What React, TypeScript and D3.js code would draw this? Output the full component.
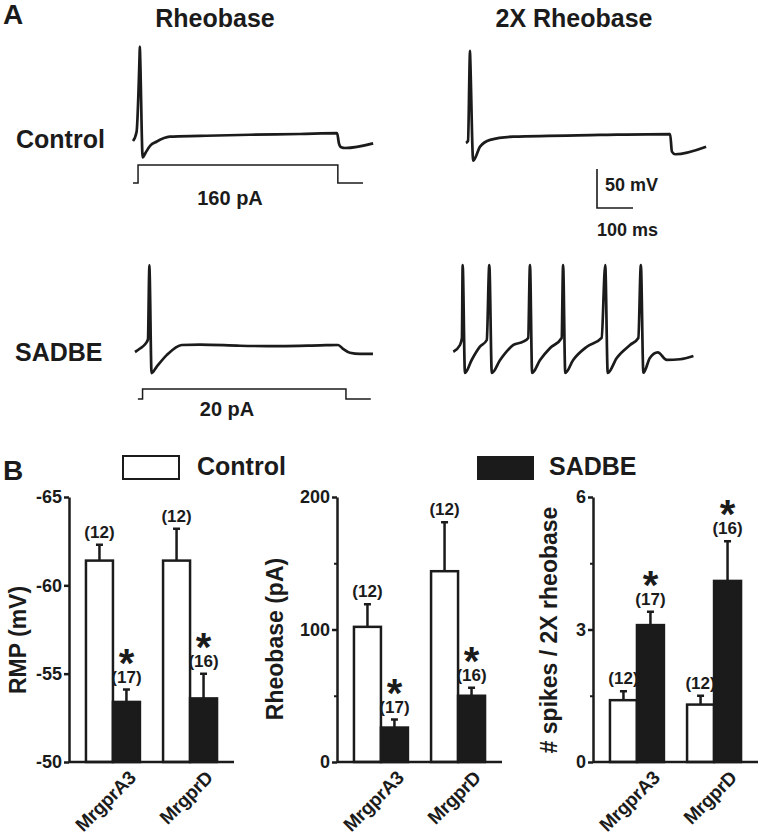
import React, { useEffect, useRef } from "react";
import * as d3 from "d3";

const FONT = "'Liberation Sans', Arial, Helvetica, sans-serif";
const INK = "#1b1b1b";

// ---- panel A: membrane potential traces, [time (ms), Vm (mV)] ----
const controlRheoTrace: [number, number][] = [
  [0, -60], [10, -48], [18.3, 50], [19, 61], [19.8, 50], [27, -81], [35, -75], [48, -66],
  [65, -61], [102, -54.5], [186, -53.5], [325, -52], [464, -51], [567, -50], [572, -63],
  [578, -68], [590, -69], [667, -63],
];
const control2xTrace: [number, number][] = [
  [0, -60], [5.6, -57.4], [10.3, 48], [11, 58], [11.8, 48], [20, -82.7], [39, -64.7], [67, -56],
  [131, -51.9], [372, -49.7], [567, -48.5], [572, -71], [581, -74.4], [667, -64.7],
];
const sadbeRheoTrace: [number, number][] = [
  [0, -60], [14, -55.5], [28, -50], [36, -44], [39.3, 42], [40, 51], [40.7, 42], [46, -87],
  [60, -79], [88, -64], [130, -51], [181, -50.5], [292, -52], [403, -52.5], [514, -51.5],
  [564, -51], [578, -56], [597, -61], [625, -62.5], [661, -62.5],
];
const sadbe2xTrace: [number, number][] = [
  [0, -60], [18.6, -51.4], [24, -42.4], [26, 51], [32.4, -87.3], [51, -70.6], [74, -53.6],
  [93, -45], [100, 51], [107, -87.3], [130, -70.6], [167, -51.4], [194, -47.2], [208, -42.4],
  [213, 51], [219, -87.3], [241, -70.6], [269, -55.3], [301, -42.4], [305, 51], [311, -87.3],
  [333, -70.6], [371, -53.6], [412, -42.4], [422, 51], [429, -87.3], [454, -68], [491, -51.4],
  [514, -42.4], [521, 51], [528, -87], [546, -68], [568, -60.8], [593, -70.6], [630, -69.7],
  [667, -65.5],
];

// current steps, [time (ms), pA]
const controlStep: [number, number][] = [[0, 0], [14, 0], [14, 160], [569, 160], [569, 0], [639, 0]];
const sadbeStep: [number, number][] = [[8, 0], [21, 0], [21, 20], [586, 20], [586, 0], [655, 0]];
const stepLabels = ["160 pA", "20 pA"];

const scaleBarMv = 50;
const scaleBarMs = 100;

// ---- panel B ----
const genes = ["MrgprA3", "MrgprD"];
const groups = ["Control", "SADBE"];

const rmpControl = [-61.4, -61.4];
const rmpControlSem = [0.9, 1.8];
const rmpSadbe = [-53.4, -53.6];
const rmpSadbeSem = [0.7, 1.4];

const rheoControl = [102, 144];
const rheoControlSem = [17, 37];
const rheoSadbe = [26, 50];
const rheoSadbeSem = [6, 6];

const spikesControl = [1.4, 1.3];
const spikesControlSem = [0.2, 0.2];
const spikesSadbe = [3.1, 4.1];
const spikesSadbeSem = [0.3, 0.9];

const nControl = [12, 12];
const nSadbe = [17, 16];

const PX_PER_MS = 0.36;
const PX_PER_MV = 0.78;

export default function App() {
  const ref = useRef<SVGSVGElement>(null);

  useEffect(() => {
    const svg = d3.select(ref.current);
    svg.selectAll("*").remove();

    const text = (x: number, y: number, s: string, size: number, anchor = "start") =>
      svg.append("text")
        .attr("x", x).attr("y", y)
        .attr("font-family", FONT).attr("font-weight", "bold")
        .attr("font-size", size).attr("fill", INK)
        .attr("text-anchor", anchor)
        .text(s);

    // ---------- A ----------
    text(3, 24, "A", 28);
    text(215, 27, "Rheobase", 25, "middle");
    text(574, 27, "2X Rheobase", 25, "middle");
    text(16, 148, "Control", 25);
    text(15, 361, "SADBE", 25);

    const traces = [
      { data: controlRheoTrace, x0: 133, y0: 141 },
      { data: control2xTrace, x0: 466, y0: 143 },
      { data: sadbeRheoTrace, x0: 135, y0: 352 },
      { data: sadbe2xTrace, x0: 453.3, y0: 351.7 },
    ];
    const scalesFor = (x0: number, y0: number) => ({
      x: d3.scaleLinear().domain([0, 700]).range([x0, x0 + 700 * PX_PER_MS]),
      y: d3.scaleLinear().domain([-60, 40]).range([y0, y0 - 100 * PX_PER_MV]),
    });

    traces.forEach((t) => {
      const s = scalesFor(t.x0, t.y0);
      const line = d3.line<[number, number]>()
        .x((d) => s.x(d[0])).y((d) => s.y(d[1]))
        .curve(d3.curveMonotoneX);
      svg.append("path")
        .attr("d", line(t.data))
        .attr("fill", "none").attr("stroke", INK)
        .attr("stroke-width", 2.7).attr("stroke-linejoin", "round");
    });

    // current steps
    const steps = [
      { data: controlStep, x0: 133, base: 183, top: 165, label: stepLabels[0], lx: 230, ly: 205 },
      { data: sadbeStep, x0: 135, base: 399, top: 389, label: stepLabels[1], lx: 227, ly: 416 },
    ];
    steps.forEach((st) => {
      const amp = d3.max(st.data, (d) => d[1]) as number;
      const x = d3.scaleLinear().domain([0, 700]).range([st.x0, st.x0 + 700 * PX_PER_MS]);
      const y = d3.scaleLinear().domain([0, amp]).range([st.base, st.top]);
      const line = d3.line<[number, number]>().x((d) => x(d[0])).y((d) => y(d[1]));
      svg.append("path")
        .attr("d", line(st.data))
        .attr("fill", "none").attr("stroke", INK).attr("stroke-width", 1.5);
      text(st.lx, st.ly, st.label, 20, "middle");
    });

    // scale bar
    {
      const bx = 597, by = 208;
      const s = scalesFor(bx, by);
      svg.append("path")
        .attr("d", `M${bx},${s.y(-60 + scaleBarMv)}V${by}H${s.x(scaleBarMs)}`)
        .attr("fill", "none").attr("stroke", INK).attr("stroke-width", 1.6);
      text(605, 191, `${scaleBarMv} mV`, 18);
      text(597, 236, `${scaleBarMs} ms`, 18);
    }

    // ---------- B ----------
    text(3, 480, "B", 28);
    svg.append("rect").attr("x", 123).attr("y", 456).attr("width", 56).attr("height", 23)
      .attr("fill", "#fff").attr("stroke", INK).attr("stroke-width", 2);
    text(197, 475, groups[0], 25);
    svg.append("rect").attr("x", 477).attr("y", 456).attr("width", 57).attr("height", 24)
      .attr("fill", INK);
    text(549, 475, groups[1], 25);

    const panels = [
      {
        x0: 69, domain: [-50, -65], ticks: [-65, -60, -55, -50], minor: [] as number[],
        ctrl: rmpControl, ctrlSem: rmpControlSem, sad: rmpSadbe, sadSem: rmpSadbeSem,
        label: "RMP (mV)", lx: 26, ly: 640,
      },
      {
        x0: 337, domain: [0, 200], ticks: [0, 100, 200], minor: [50, 150],
        ctrl: rheoControl, ctrlSem: rheoControlSem, sad: rheoSadbe, sadSem: rheoSadbeSem,
        label: "Rheobase (pA)", lx: 283, ly: 639,
      },
      {
        x0: 593, domain: [0, 6], ticks: [0, 3, 6], minor: [1.5, 4.5],
        ctrl: spikesControl, ctrlSem: spikesControlSem, sad: spikesSadbe, sadSem: spikesSadbeSem,
        label: "# spikes / 2X rheobase", lx: 557, ly: 630,
      },
    ];

    const yTop = 497, yBot = 762;

    panels.forEach((p) => {
      const y = d3.scaleLinear().domain(p.domain).range([yBot, yTop]);
      const x = d3.scaleBand().domain(genes).range([p.x0, p.x0 + 165])
        .paddingInner(0.3).paddingOuter(0.22);
      const xi = d3.scaleBand().domain(groups).range([0, x.bandwidth()]);
      const g = svg.append("g");

      const rows = genes.flatMap((gene, i) => [
        { gene, grp: groups[0], v: p.ctrl[i], sem: p.ctrlSem[i], n: nControl[i], star: false },
        { gene, grp: groups[1], v: p.sad[i], sem: p.sadSem[i], n: nSadbe[i], star: true },
      ]);
      const base = p.domain[0];
      const dir = p.domain[1] > p.domain[0] ? 1 : -1;

      rows.forEach((r) => {
        const bx = (x(r.gene) as number) + (xi(r.grp) as number);
        const bw = xi.bandwidth();
        const cx = bx + bw / 2;
        const yv = y(r.v);
        const ye = y(r.v + dir * r.sem);
        // error bar
        g.append("path")
          .attr("d", `M${cx},${yv}V${ye}M${cx - 3.5},${ye}H${cx + 3.5}`)
          .attr("stroke", INK).attr("stroke-width", 2.5).attr("fill", "none");
        g.append("rect")
          .attr("x", bx).attr("y", yv)
          .attr("width", bw).attr("height", y(base) - yv)
          .attr("fill", r.grp === groups[0] ? "#fff" : INK)
          .attr("stroke", INK).attr("stroke-width", 2.5);
        const nb = ye - 7;
        g.append("text").attr("x", cx).attr("y", nb)
          .attr("font-family", FONT).attr("font-weight", "bold").attr("font-size", 17)
          .attr("fill", INK).attr("text-anchor", "middle").text(`(${r.n})`);
        if (r.star) {
          g.append("text").attr("x", cx).attr("y", nb - 6)
            .attr("font-family", FONT).attr("font-weight", "bold").attr("font-size", 40)
            .attr("fill", INK).attr("text-anchor", "middle").text("*");
        }
      });

      // y axis
      const ax = g.append("g").attr("transform", `translate(${p.x0},0)`)
        .call(d3.axisLeft(y).tickValues(p.ticks).tickSize(5).tickSizeOuter(0).tickPadding(2)
          .tickFormat((d) => String(d)));
      ax.select(".domain").attr("stroke", INK).attr("stroke-width", 2.5);
      ax.selectAll(".tick line").attr("stroke", INK).attr("stroke-width", 2.5);
      ax.selectAll(".tick text")
        .attr("font-family", FONT).attr("font-weight", "bold").attr("font-size", 18)
        .attr("fill", INK);

      if (p.minor.length) {
        const mx = g.append("g").attr("transform", `translate(${p.x0},0)`)
          .call(d3.axisLeft(y).tickValues(p.minor).tickSize(3).tickFormat(() => ""));
        mx.select(".domain").remove();
        mx.selectAll(".tick line").attr("stroke", INK).attr("stroke-width", 2);
      }

      // x axis line
      g.append("line")
        .attr("x1", p.x0).attr("x2", p.x0 + 165)
        .attr("y1", yBot).attr("y2", yBot)
        .attr("stroke", INK).attr("stroke-width", 2.5);

      genes.forEach((gene) => {
        const cx = (x(gene) as number) + x.bandwidth() / 2;
        g.append("text")
          .attr("transform", `translate(${cx + 24},${yBot + 17}) rotate(-45)`)
          .attr("font-family", FONT).attr("font-weight", "bold").attr("font-size", 19)
          .attr("fill", INK).attr("text-anchor", "end").attr("letter-spacing", -0.3)
          .text(gene);
      });

      g.append("text")
        .attr("transform", `translate(${p.lx},${p.ly}) rotate(-90)`)
        .attr("font-family", FONT).attr("font-weight", "bold").attr("font-size", 23)
        .attr("fill", INK).attr("text-anchor", "middle")
        .text(p.label);
    });
  }, []);

  return (
    <svg
      ref={ref}
      width={760}
      height={839}
      style={{ position: "absolute", left: 0, top: 0, background: "#fff" }}
    />
  );
}
